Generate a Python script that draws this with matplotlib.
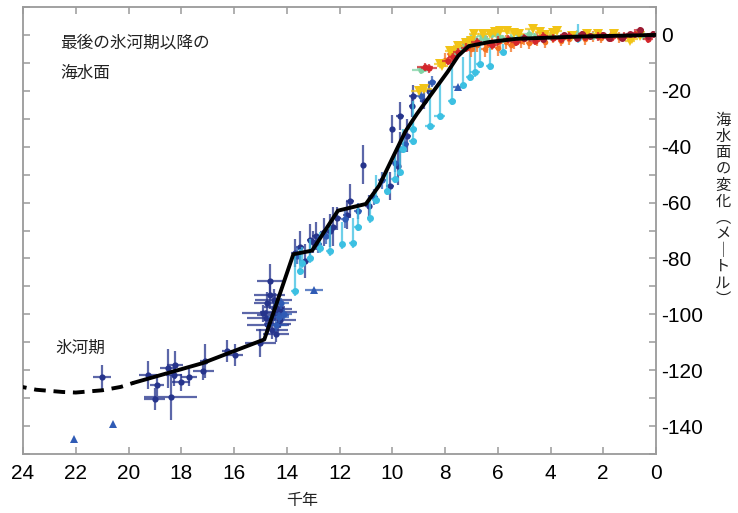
import matplotlib
matplotlib.use("Agg")
import matplotlib.pyplot as plt

plt.rcParams['font.family'] = ['Liberation Sans', 'Noto Sans CJK JP', 'DejaVu Sans']
plt.rcParams['axes.unicode_minus'] = False

# ---- data (kyr before present, sea level change in m) ----
# dark navy crosses
navy_x = [21.0, 19.26, 18.92, 19.0, 18.4, 18.5, 18.24, 18.27, 18.0, 17.7, 17.17, 17.1, 16.27, 15.96, 15.0,
          14.63, 14.5, 14.9, 14.52, 14.33, 14.26, 14.7, 14.35, 14.8, 14.56, 14.45, 14.65, 14.2, 14.4, 14.75,
          13.7, 13.3, 13.1, 13.0, 12.36, 12.25, 12.1, 11.7, 11.6, 11.1, 10.9, 10.1, 9.8, 9.7, 9.45,
          10.0, 9.7, 9.25, 9.2, 8.8, 8.6, 13.5, 12.9, 12.6]
navy_y = [-122.5, -121.8, -125.4, -130.4, -129.7, -119.3, -118.2, -121.8, -124.3, -122.5, -120.4, -116.8, -113.2, -114.6, -110.4,
          -88.0, -95.0, -99.6, -100.4, -99.0, -102.0, -104.0, -103.5, -101.4, -105.7, -97.5, -93.0, -98.0, -107.0, -96.0,
          -78.0, -81.0, -73.5, -74.0, -70.0, -68.6, -65.7, -64.6, -59.5, -46.4, -61.4, -54.0, -46.8, -40.7, -36.0,
          -33.6, -28.9, -25.4, -22.0, -23.6, -20.0, -76.0, -72.0, -70.5]
navy_xerr = [0.35, 0.35, 0.25, 0.4, 1.0, 0.3, 0.3, 0.3, 0.35, 0.3, 0.4, 0.2, 0.2, 0.3, 0.6,
             0.5, 0.7, 0.8, 0.6, 0.7, 0.6, 0.8, 0.5, 0.7, 0.6, 0.4, 0.6, 0.4, 0.5, 0.5,
             0.15, 0.15, 0.15, 0.15, 0.15, 0.15, 0.15, 0.15, 0.15, 0.1, 0.15, 0.15, 0.15, 0.15, 0.15,
             0.1, 0.15, 0.1, 0.15, 0.15, 0.1, 0.15, 0.15, 0.15]
navy_yerr = [4.5, 5.0, 4.0, 4.0, 8.0, 7.0, 5.0, 4.0, 3.0, 3.0, 3.0, 6.0, 4.0, 4.0, 5.0,
             6.0, 4.0, 3.0, 3.0, 3.0, 3.0, 3.0, 3.0, 3.0, 3.0, 5.0, 5.0, 3.0, 3.0, 4.0,
             5.0, 6.0, 6.0, 4.0, 6.0, 7.0, 4.0, 5.0, 6.0, 7.0, 4.0, 5.0, 7.0, 6.0, 6.0,
             5.0, 5.0, 4.0, 4.0, 3.0, 3.0, 6.0, 5.0, 5.0]

# medium blue circles
blue_x = [14.3, 14.1, 14.4, 14.2, 13.6, 12.8, 12.5, 11.8, 11.3, 10.7, 10.4, 9.9, 9.5, 8.5, 8.9]
blue_y = [-101.0, -100.0, -104.0, -96.0, -79.0, -75.0, -72.0, -66.0, -63.0, -58.0, -52.0, -46.0, -39.0, -16.8, -22.0]
blue_xerr = [0.4, 0.3, 0.4, 0.3, 0.15, 0.15, 0.15, 0.15, 0.15, 0.15, 0.15, 0.15, 0.15, 0.15, 0.15]
blue_yerr = [2.0, 2.0, 2.0, 2.0, 3.0, 3.0, 3.0, 3.0, 3.0, 3.0, 3.0, 3.0, 3.0, 2.0, 2.0]

# blue triangles
tri_x = [22.05, 20.6, 12.97, 7.5]
tri_y = [-144.6, -139.3, -91.4, -18.6]
tri_xerr = [0.0, 0.0, 0.35, 0.2]

# cyan circles (errors mostly upwards)
cyan_x = [13.7, 13.5, 13.42, 13.1, 12.74, 12.36, 11.9, 11.5, 11.3, 10.85, 10.6, 10.2, 9.9, 9.7, 9.6, 9.2,
          9.2, 8.57, 8.2, 7.73, 7.3, 7.05, 6.86, 6.67, 6.3, 5.8, 2.96]
cyan_y = [-91.8, -84.6, -81.8, -80.0, -76.4, -77.5, -75.0, -74.6, -68.6, -65.7, -59.0, -55.7, -51.4, -49.0, -40.7, -38.0,
          -33.6, -32.5, -28.9, -23.6, -18.0, -15.0, -13.4, -10.4, -11.0, -6.1, -1.0]
cyan_xerr = [0.15, 0.1, 0.1, 0.15, 0.1, 0.15, 0.1, 0.15, 0.15, 0.1, 0.15, 0.1, 0.15, 0.1, 0.1, 0.15,
             0.15, 0.2, 0.2, 0.15, 0.15, 0.15, 0.2, 0.15, 0.15, 0.15, 0.0]
cyan_ylo = [1.5, 1.5, 1.5, 1.5, 1.5, 1.5, 1.5, 1.5, 1.5, 1.5, 1.5, 1.5, 1.5, 1.5, 1.5, 1.5,
            1.5, 1.5, 1.5, 1.5, 1.5, 1.5, 1.5, 1.5, 1.5, 1.0, 2.0]
cyan_yhi = [13.0, 8.0, 6.0, 7.0, 6.0, 10.0, 8.0, 9.0, 8.0, 8.0, 9.0, 8.0, 9.0, 10.0, 7.0, 8.0,
            10.0, 12.0, 12.0, 12.0, 10.0, 11.0, 10.0, 9.0, 8.0, 3.0, 5.0]

# green
green_x = [8.9, 8.75, 7.6, 7.3, 7.16, 6.8, 6.6, 6.5, 6.2, 6.0, 5.8, 5.5, 5.2, 4.8, 4.6, 4.0, 3.5, 3.0,
           2.4, 0.5, 7.0]
green_y = [-12.5, -11.8, -6.0, -4.5, -3.9, -2.0, -0.5, -1.5, 0.5, -0.5, -1.5, -1.0, 0.0, 0.5, -0.8, -0.5,
           -0.5, 0.3, -0.3, -0.2, -1.0]
green_xerr = [0.35, 0.3, 0.2, 0.2, 0.2, 0.2, 0.2, 0.2, 0.2, 0.2, 0.2, 0.2, 0.2, 0.2, 0.2, 0.2, 0.2, 0.2,
              0.2, 0.2, 0.2]
green_yerr = [1.5, 1.5, 1.5, 1.5, 1.5, 1.5, 1.5, 1.5, 1.5, 1.5, 1.5, 1.5, 1.5, 1.5, 1.5, 1.5, 1.5, 1.5,
              1.5, 1.5, 1.5]

# yellow (down triangles)
yellow_x = [9.0, 8.8, 8.2, 8.1, 7.8, 7.7, 7.5, 7.2, 7.0, 6.9, 6.56, 6.3, 6.1, 5.9, 5.65, 5.4, 5.2, 4.66,
            4.4, 4.2, 3.9, 3.75, 3.2, 2.6, 2.2, 1.6, 0.99, 0.9, 0.6]
yellow_y = [-20.0, -19.3, -10.4, -11.0, -5.7, -5.7, -4.0, -3.0, -2.0, 0.5, 0.4, 0.5, 1.0, 1.5, 1.4, 0.8,
            0.5, 2.1, 1.0, 0.0, 0.8, 1.4, -0.5, 0.5, 0.3, 0.2, -2.0, -1.5, -0.5]
yellow_xerr = [0.3, 0.3, 0.2, 0.2, 0.2, 0.2, 0.2, 0.2, 0.2, 0.2, 0.2, 0.2, 0.2, 0.2, 0.3, 0.2, 0.2, 0.3,
               0.2, 0.2, 0.2, 0.2, 0.2, 0.2, 0.2, 0.2, 0.2, 0.2, 0.2]
yellow_yerr = [1.0, 1.0, 1.0, 1.0, 1.0, 1.0, 1.0, 1.0, 1.0, 1.0, 1.0, 1.0, 1.0, 1.0, 1.0, 1.0, 1.0, 1.0,
               1.0, 1.0, 1.0, 1.0, 1.0, 1.0, 1.0, 1.0, 1.0, 1.0, 1.0]

# orange
orange_x = [8.0, 7.8, 7.6, 7.3, 7.0, 6.8, 6.5, 6.2, 6.0, 5.7, 5.4, 5.1, 4.8, 4.5, 4.2, 3.9, 3.6, 3.3,
            3.0, 2.7, 2.4, 2.1, 1.7, 1.4, 6.9, 6.4, 5.9, 5.5, 5.0]
orange_y = [-9.0, -7.0, -5.0, -4.0, -5.0, -3.5, -5.0, -3.0, -4.5, -2.5, -3.0, -2.0, -3.0, -1.5, -2.5, -1.0,
            -2.0, -1.5, -0.5, -1.5, -0.5, -1.0, 0.0, -0.8, -2.5, -3.5, -2.0, -3.5, -1.5]
orange_yerr = [2.5, 2.5, 3.0, 2.5, 3.0, 2.5, 3.0, 2.5, 3.0, 2.5, 2.0, 2.5, 2.0, 2.5, 2.0, 2.0,
               2.0, 2.0, 2.0, 2.0, 2.0, 2.0, 2.0, 2.0, 3.5, 3.0, 3.0, 2.5, 2.0]

# red
red_x = [8.76, 8.6, 7.9, 7.7, 7.5, 7.2, 6.8, 6.2, 6.0, 5.6, 5.3, 5.0, 4.6, 4.3, 3.9, 3.6, 3.3, 2.7, 2.2,
         1.7, 1.2, 0.8, 0.3]
red_y = [-11.4, -12.0, -9.3, -7.9, -6.0, -4.5, -2.5, -3.5, -2.0, -1.5, -2.5, -1.0, -2.0, -0.5, -1.2, -1.5,
         -0.5, -0.8, -0.5, -1.0, -0.5, 0.5, -1.5]
red_xerr = [0.3, 0.3, 0.2, 0.2, 0.2, 0.2, 0.2, 0.2, 0.2, 0.2, 0.2, 0.2, 0.2, 0.2, 0.2, 0.2, 0.2, 0.2, 0.2,
            0.2, 0.2, 0.2, 0.2]
red_yerr = [1.5, 1.5, 1.5, 1.5, 1.5, 1.5, 1.5, 1.5, 1.5, 1.5, 1.5, 1.5, 1.5, 1.5, 1.5, 1.5, 1.5, 1.5, 1.5,
            1.5, 1.5, 1.5, 1.5]

# dark red
dred_x = [5.0, 4.3, 3.5, 3.0, 2.8, 2.5, 2.0, 1.8, 1.3, 1.0, 0.6, 0.3, 0.1]
dred_y = [-1.2, -1.5, -0.2, -1.0, 0.3, -0.5, 0.0, -1.2, -1.0, 0.2, 1.8, -0.3, 0.3]

# sea level curve
dash_x = [24.3, 23.5, 22.5, 22.0, 21.0, 20.3, 19.8]
dash_y = [-125.5, -127.0, -127.8, -128.0, -127.2, -126.0, -124.5]
curve_x = [19.8, 17.2, 14.85, 13.75, 13.04, 12.06, 11.0, 10.5, 9.5, 9.06, 7.9, 7.5, 7.1, 6.3, 5.3, 3.0, 0.0]
curve_y = [-124.5, -117.5, -109.0, -78.5, -77.2, -62.9, -60.5, -54.0, -34.5, -28.2, -13.2, -7.5, -4.0, -2.5,
           -1.4, -0.6, 0.0]

x_ticks = [24, 22, 20, 18, 16, 14, 12, 10, 8, 6, 4, 2, 0]
y_ticks = [0, -20, -40, -60, -80, -100, -120, -140]
y_minor = [10, -10, -30, -50, -70, -90, -110, -130, -150]

title_lines = ["最後の氷河期以降の", "海水面"]
# vertical-writing forms for the brackets and the long vowel mark
ylabel_chars = "海水面の変化︵メ｜トル︶"

# ---- plot ----
fig = plt.figure(figsize=(7.38, 5.13), dpi=100)
ax = fig.add_axes([23 / 738, 59 / 513, 633 / 738, 447 / 513])

C_NAVY = "#26348c"
C_BLUE = "#2f5bb5"
C_CYAN = "#3cc0e2"
C_GREEN = "#7fd2a4"
C_YELLOW = "#f2c417"
C_ORANGE = "#f47321"
C_RED = "#d4262b"
C_DRED = "#9c1b32"

eb = dict(fmt="none", elinewidth=1.6, alpha=0.75, capsize=0)

ax.errorbar(navy_x, navy_y, xerr=navy_xerr, yerr=navy_yerr, ecolor=C_NAVY, **eb)
ax.plot(navy_x, navy_y, "o", color=C_NAVY, ms=4.5, mew=0)

ax.errorbar(blue_x, blue_y, xerr=blue_xerr, yerr=blue_yerr, ecolor=C_BLUE, **eb)
ax.plot(blue_x, blue_y, "o", color=C_BLUE, ms=4.5, mew=0)

ax.errorbar(tri_x, tri_y, xerr=tri_xerr, ecolor=C_BLUE, **eb)
ax.plot(tri_x, tri_y, "^", color=C_BLUE, ms=6, mew=0)

ax.errorbar(cyan_x, cyan_y, xerr=cyan_xerr, yerr=[cyan_ylo, cyan_yhi], ecolor=C_CYAN, **eb)
ax.plot(cyan_x, cyan_y, "o", color=C_CYAN, ms=5, mew=0)

ax.errorbar(orange_x, orange_y, yerr=orange_yerr, xerr=0.12, ecolor=C_ORANGE, **eb)
ax.plot(orange_x, orange_y, "o", color=C_ORANGE, ms=4, mew=0)

ax.errorbar(green_x, green_y, xerr=green_xerr, yerr=green_yerr, ecolor=C_GREEN, **eb)
ax.plot(green_x, green_y, "o", color=C_GREEN, ms=4.5, mew=0)

ax.errorbar(yellow_x, yellow_y, xerr=yellow_xerr, yerr=yellow_yerr, ecolor=C_YELLOW, **eb)
ax.plot(yellow_x, yellow_y, "v", color=C_YELLOW, ms=7, mew=0)

ax.errorbar(red_x, red_y, xerr=red_xerr, yerr=red_yerr, ecolor=C_RED, **eb)
ax.plot(red_x, red_y, "o", color=C_RED, ms=4.5, mew=0)

ax.errorbar(dred_x, dred_y, xerr=0.15, yerr=1.0, ecolor=C_DRED, **eb)
ax.plot(dred_x, dred_y, "o", color=C_DRED, ms=5, mew=0)

ax.plot(dash_x, dash_y, color="black", lw=2.8, ls=(0, (3, 2)), zorder=5)
ax.plot(curve_x, curve_y, color="black", lw=2.8, solid_capstyle="round",
        solid_joinstyle="round", zorder=5)

ax.set_xlim(24, 0)
ax.set_ylim(-150, 10)
ax.set_xticks(x_ticks)
ax.set_xticklabels([str(t) for t in x_ticks])
ax.set_yticks(y_ticks)
ax.set_yticklabels([str(t) for t in y_ticks])
ax.set_yticks(y_minor, minor=True)

gray = "#9a9a9a"
for s in ax.spines.values():
    s.set_color(gray)
    s.set_linewidth(1.3)
ax.tick_params(axis="x", which="both", direction="in", top=True, bottom=True,
               length=5, width=1.1, color=gray, labelsize=15, pad=7)
ax.tick_params(axis="y", which="both", direction="in", left=True, right=True,
               labelleft=False, labelright=True, length=5, width=1.1, color=gray,
               labelsize=15, pad=4)

# annotations
fig.text(60 / 738, 1 - 43 / 513, title_lines[0], fontsize=12, va="center", ha="left", color="#222222")
fig.text(60 / 738, 1 - 73 / 513, title_lines[1], fontsize=12, va="center", ha="left", color="#222222")
fig.text(55 / 738, 1 - 348 / 513, "氷河期", fontsize=12, va="center", ha="left", color="#222222")
fig.text(302 / 738, 1 - 501 / 513, "千年", fontsize=11.5, va="center", ha="center", color="#222222")

# vertical y label, one upright character per slot
y0 = 120
for i, ch in enumerate(ylabel_chars):
    fig.text(723 / 738, 1 - (y0 + i * 16.3) / 513, ch, fontsize=11,
             ha="center", va="center", color="#222222", family="Noto Sans CJK JP")

fig.savefig("out.png", dpi=100)
